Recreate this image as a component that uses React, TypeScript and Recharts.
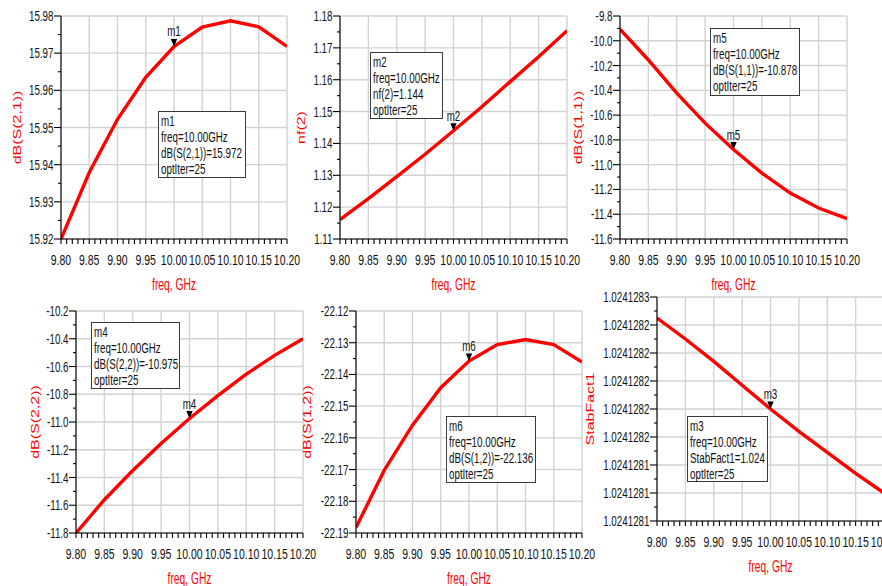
import React from 'react';
import { LineChart, Line, XAxis, YAxis, CartesianGrid, ReferenceDot, Label } from 'recharts';

// ---------- data ----------
const freq = [9.8, 9.85, 9.9, 9.95, 10.0, 10.05, 10.1, 10.15, 10.2];
const dbS21 = [15.92, 15.9379, 15.9522, 15.9635, 15.9718, 15.977, 15.9787, 15.9771, 15.9718];
const nf2 = [1.1161, 1.1227, 1.1296, 1.1366, 1.144, 1.1515, 1.1594, 1.1672, 1.1754];
const dbS11 = [-9.907, -10.155, -10.423, -10.665, -10.878, -11.068, -11.229, -11.35, -11.436];
const dbS22 = [-11.8, -11.56, -11.35, -11.155, -10.975, -10.81, -10.655, -10.52, -10.4];
const dbS12 = [-22.1883, -22.1702, -22.156, -22.1442, -22.1358, -22.1306, -22.129, -22.1306, -22.1361];
const stabFact1 = [1.024128245, 1.02412823, 1.024128214, 1.024128197, 1.02412818, 1.024128164, 1.024128149, 1.024128134, 1.02412812];

// ---------- ticks ----------
const freqTicks = [9.8, 9.85, 9.9, 9.95, 10.0, 10.05, 10.1, 10.15, 10.2];
const s21Ticks = [15.92, 15.93, 15.94, 15.95, 15.96, 15.97, 15.98];
const nfTicks = [1.11, 1.12, 1.13, 1.14, 1.15, 1.16, 1.17, 1.18];
const s11Ticks = [-11.6, -11.4, -11.2, -11.0, -10.8, -10.6, -10.4, -10.2, -10.0, -9.8];
const s22Ticks = [-11.8, -11.6, -11.4, -11.2, -11.0, -10.8, -10.6, -10.4, -10.2];
const s12Ticks = [-22.19, -22.18, -22.17, -22.16, -22.15, -22.14, -22.13, -22.12];
const stabTicks = [1.0241281, 1.02412812, 1.02412814, 1.02412816, 1.02412818, 1.0241282, 1.02412822, 1.02412824, 1.02412826];

// ---------- marker readouts ----------
const m1Lines = ['m1', 'freq=10.00GHz', 'dB(S(2,1))=15.972', 'optIter=25'];
const m2Lines = ['m2', 'freq=10.00GHz', 'nf(2)=1.144', 'optIter=25'];
const m5Lines = ['m5', 'freq=10.00GHz', 'dB(S(1,1))=-10.878', 'optIter=25'];
const m4Lines = ['m4', 'freq=10.00GHz', 'dB(S(2,2))=-10.975', 'optIter=25'];
const m6Lines = ['m6', 'freq=10.00GHz', 'dB(S(1,2))=-22.136', 'optIter=25'];
const m3Lines = ['m3', 'freq=10.00GHz', 'StabFact1=1.024', 'optIter=25'];
const markerFreq = 10.0;

const FONT = '"Liberation Sans", Arial, Helvetica, sans-serif';
const SX = 0.7;

const subdivide = (arr: number[], n: number) => {
  const out: number[] = [];
  for (let i = 0; i < arr.length - 1; i++) {
    for (let k = 0; k < n; k++) out.push(arr[i] + ((arr[i + 1] - arr[i]) * k) / n);
  }
  out.push(arr[arr.length - 1]);
  return out;
};
const isMajor = (v: number, arr: number[]) => {
  const eps = Math.abs(arr[1] - arr[0]) * 1e-3;
  return arr.some((m) => Math.abs(m - v) < eps);
};

const panels = [
  { name: 'm1', values: dbS21, yTicks: s21Ticks, digits: 2, yTitle: 'dB(S(2,1))', lines: m1Lines,
    plot: { left: 61, top: 16, width: 226, height: 223 }, titleOffset: 44,
    box: { left: 158, top: 111, width: 88, height: 67 } },
  { name: 'm2', values: nf2, yTicks: nfTicks, digits: 2, yTitle: 'nf(2)', lines: m2Lines,
    plot: { left: 340, top: 16, width: 227, height: 223 }, titleOffset: 38.5,
    box: { left: 370, top: 52, width: 73, height: 67 } },
  { name: 'm5', values: dbS11, yTicks: s11Ticks, digits: 1, yTitle: 'dB(S(1,1))', lines: m5Lines,
    plot: { left: 620, top: 16, width: 227, height: 223 }, titleOffset: 41.5,
    box: { left: 710, top: 28, width: 90, height: 68 } },
  { name: 'm4', values: dbS22, yTicks: s22Ticks, digits: 1, yTitle: 'dB(S(2,2))', lines: m4Lines,
    plot: { left: 76, top: 311, width: 227, height: 222 }, titleOffset: 41,
    box: { left: 91, top: 322, width: 89, height: 67 } },
  { name: 'm6', values: dbS12, yTicks: s12Ticks, digits: 2, yTitle: 'dB(S(1,2))', lines: m6Lines,
    plot: { left: 356, top: 311, width: 226, height: 222 }, titleOffset: 48.5,
    box: { left: 446, top: 416, width: 90, height: 67 } },
  { name: 'm3', values: stabFact1, yTicks: stabTicks, digits: 7, yTitle: 'StabFact1', lines: m3Lines,
    plot: { left: 657, top: 297, width: 227, height: 224 }, titleOffset: 66.5,
    box: { left: 687, top: 416, width: 81, height: 66 } },
];

const ML = 95;
const MT = 14;
const MR = 24;
const XH = 70;

function Panel({ cfg }: { cfg: any }) {
  const { plot } = cfg;
  const data = freq.map((f, i) => ({ f, v: cfg.values[i] }));
  const xAll = subdivide(freqTicks, 5);
  const yAll = subdivide(cfg.yTicks, 2);
  const yDomain = [cfg.yTicks[0], cfg.yTicks[cfg.yTicks.length - 1]];
  const markerValue = cfg.values[freq.indexOf(markerFreq)];

  const xTick = (p: any) => {
    const v = p.payload.value;
    const major = isMajor(v, freqTicks);
    return (
      <g>
        <line x1={p.x} x2={p.x} y1={p.y} y2={p.y + 5} stroke="#000" strokeWidth={1.1} />
        {major && (
          <text transform={`translate(${p.x},${p.y + 26}) scale(${SX},1)`} textAnchor="middle"
            fontSize={15} fontFamily={FONT} fill="#111">{v.toFixed(2)}</text>
        )}
      </g>
    );
  };
  const yTick = (p: any) => {
    const v = p.payload.value;
    const major = isMajor(v, cfg.yTicks);
    return (
      <g>
        <line x1={p.x} x2={p.x - (major ? 7 : 3)} y1={p.y} y2={p.y} stroke="#000" strokeWidth={1.1} />
        {major && (
          <text transform={`translate(${p.x - 7.5},${p.y + 5}) scale(${SX},1)`} textAnchor="end"
            fontSize={14} fontFamily={FONT} fill="#111">{v.toFixed(cfg.digits)}</text>
        )}
      </g>
    );
  };
  const xTitle = () => (
    <text transform={`translate(${ML + plot.width / 2},${MT + plot.height + 51}) scale(0.64,1)`}
      textAnchor="middle" fontSize={16} fontFamily={FONT} fill="#ff0000">freq, GHz</text>
  );
  const yTitle = () => (
    <text transform={`translate(${ML - cfg.titleOffset + 3.5},${MT + plot.height / 2}) scale(${SX},1) rotate(-90)`}
      textAnchor="middle" fontSize={16} fontFamily={FONT} fill="#ff0000">{cfg.yTitle}</text>
  );
  const markerShape = (p: any) => (
    <g>
      <path d={`M${p.cx - 3.2},${p.cy - 7.5} L${p.cx + 3.2},${p.cy - 7.5} L${p.cx},${p.cy} Z`} fill="#000" />
      <text transform={`translate(${p.cx},${p.cy - 10}) scale(${SX},1)`} textAnchor="middle"
        fontSize={14} fontFamily={FONT} fill="#111">{cfg.name}</text>
    </g>
  );

  return (
    <div style={{ position: 'absolute', left: plot.left - ML, top: plot.top - MT }}>
      <LineChart width={plot.width + ML + MR} height={plot.height + MT + XH} data={data}
        margin={{ top: MT, right: MR, bottom: 0, left: 0 }}>
        <CartesianGrid stroke="#d2d2d2" strokeWidth={1.4} horizontalValues={cfg.yTicks} verticalValues={freqTicks} />
        <XAxis dataKey="f" type="number" domain={[9.8, 10.2]} ticks={xAll} interval={0} tickSize={0} tickMargin={0}
          height={XH} allowDataOverflow axisLine={{ stroke: '#000', strokeWidth: 1.1 }} tickLine={false} tick={xTick}>
          <Label content={xTitle} />
        </XAxis>
        <XAxis xAxisId="top" orientation="top" dataKey="f" type="number" domain={[9.8, 10.2]} height={0}
          tick={false} tickLine={false} axisLine={{ stroke: '#000', strokeWidth: 1.1 }} />
        <YAxis type="number" domain={yDomain} ticks={yAll} interval={0} tickSize={0} tickMargin={0} width={ML}
          allowDataOverflow axisLine={{ stroke: '#000', strokeWidth: 1.1 }} tickLine={false} tick={yTick}>
          <Label content={yTitle} />
        </YAxis>
        <YAxis yAxisId="right" orientation="right" type="number" domain={[0, 1]} width={0}
          tick={false} tickLine={false} axisLine={{ stroke: '#9a9a9a', strokeWidth: 1.1 }} />
        <Line type="linear" dataKey="v" stroke="#ff0000" strokeWidth={3.4} dot={false} isAnimationActive={false} />
        <ReferenceDot x={markerFreq} y={markerValue} r={0} shape={markerShape} />
      </LineChart>
    </div>
  );
}

function InfoBox({ cfg }: { cfg: any }) {
  const b = cfg.box;
  return (
    <div style={{ position: 'absolute', left: b.left, top: b.top, width: b.width, height: b.height,
      border: '1px solid #3a3a3a', background: '#fff', boxSizing: 'border-box', fontFamily: FONT,
      fontSize: 14, lineHeight: '16px', paddingTop: 1, paddingLeft: 2, color: '#111', whiteSpace: 'nowrap', zIndex: 5 }}>
      {cfg.lines.map((l: string, i: number) => (
        <div key={i} style={{ transform: `scaleX(${SX})`, transformOrigin: '0 0' }}>{l}</div>
      ))}
    </div>
  );
}

export default function App() {
  return (
    <div style={{ position: 'fixed', left: 0, top: 0, width: 882, height: 586, overflow: 'hidden', background: '#fff' }}>
      {panels.map((p) => <Panel key={p.name} cfg={p} />)}
      {panels.map((p) => <InfoBox key={'b' + p.name} cfg={p} />)}
    </div>
  );
}
